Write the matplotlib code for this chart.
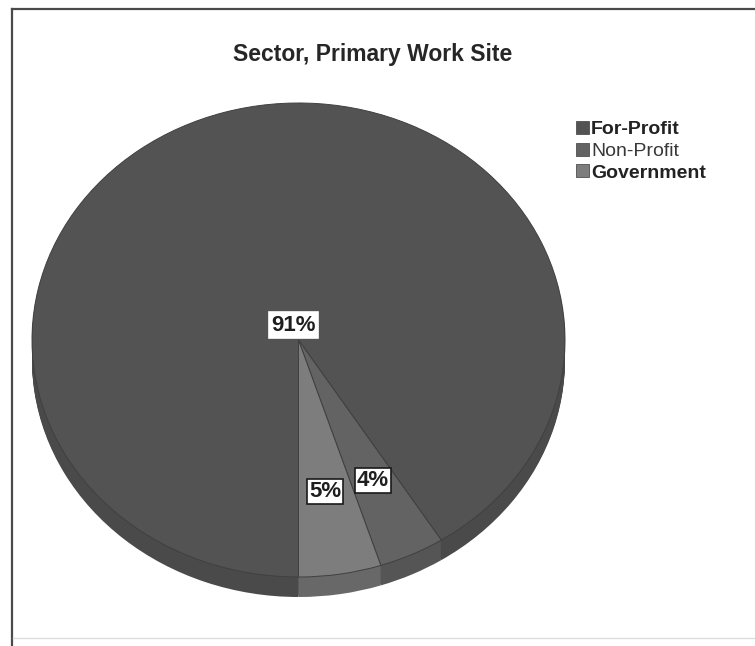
import matplotlib
matplotlib.use("Agg")
import matplotlib.pyplot as plt
from matplotlib.patches import Patch
from matplotlib.lines import Line2D

plt.rcParams["font.family"] = ["Liberation Sans", "DejaVu Sans"]

# Survey results: sector of the primary work site
categories = ["For-Profit", "Non-Profit", "Government"]
shares = [91, 4, 5]
title = "Sector, Primary Work Site"

top_colors = ["#535353", "#636363", "#7d7d7d"]
side_colors = ["#4a4a4a", "#555555", "#686868"]

W, H = 755, 646
fig = plt.figure(figsize=(W / 100, H / 100), dpi=100)
fig.patch.set_facecolor("white")


def fx(x):
    return x / W


def fy(y):
    return 1 - y / H


# chart-area frame
fig.add_artist(Line2D([fx(12), fx(755)], [fy(9), fy(9)], color="#4a4a4a", lw=1.6))
fig.add_artist(Line2D([fx(12), fx(12)], [fy(9), fy(646)], color="#4a4a4a", lw=1.6))
fig.add_artist(Line2D([fx(13), fx(755)], [fy(638), fy(638)], color="#dddddd", lw=1.0))

# tilted pie: top face drawn on an axes that is wider than tall
ax = fig.add_axes([fx(32), fy(577), (565 - 32) / W, (577 - 103) / H])

depth = 20 / 237
layers = 16
for i in range(layers, 0, -1):
    off = -depth * i / layers
    side, _ = ax.pie(shares, colors=side_colors, startangle=270, counterclock=False,
                     center=(0, off), radius=1, wedgeprops=dict(linewidth=0))
    for w in side:
        w.set_clip_on(False)

wedges, _ = ax.pie(shares, colors=top_colors, startangle=270, counterclock=False,
                   wedgeprops=dict(linewidth=0.7, edgecolor="#404040"))
for w in wedges:
    w.set_clip_on(False)

ax.set_aspect("auto")
ax.set_xlim(-1, 1)
ax.set_ylim(-1, 1)
ax.axis("off")

# percentage labels
label_pos = [(-0.02, 0.063), (0.28, -0.593), (0.10, -0.64)]
label_edge = ["white", "#1a1a1a", "#1a1a1a"]
for v, (x, y), ec in zip(shares, label_pos, label_edge):
    t = ax.text(x, y, f"{v}%", ha="center", va="center", fontsize=16,
                fontweight="bold", color="#1e1e1e",
                bbox=dict(boxstyle="square,pad=0.1", fc="white", ec=ec, lw=1.2))
    t.set_clip_on(False)

fig.text(fx(373), fy(54), title, ha="center", va="center", fontsize=16.5,
         fontweight="bold", color="#262626")

handles = [Patch(facecolor=c, edgecolor="#505050", linewidth=0.6) for c in top_colors]
leg = fig.legend(handles, categories, loc="upper left",
                 bbox_to_anchor=(fx(576), fy(121)), frameon=False,
                 prop=dict(size=14, weight="bold"), handlelength=0.65,
                 handleheight=0.65, handletextpad=0.12, labelspacing=0.22,
                 borderpad=0, borderaxespad=0)
for txt in leg.get_texts():
    txt.set_color("#222222")
leg.get_texts()[1].set_fontweight("normal")
leg.get_texts()[1].set_color("#383838")

fig.savefig("out.png", dpi=100, facecolor="white")
